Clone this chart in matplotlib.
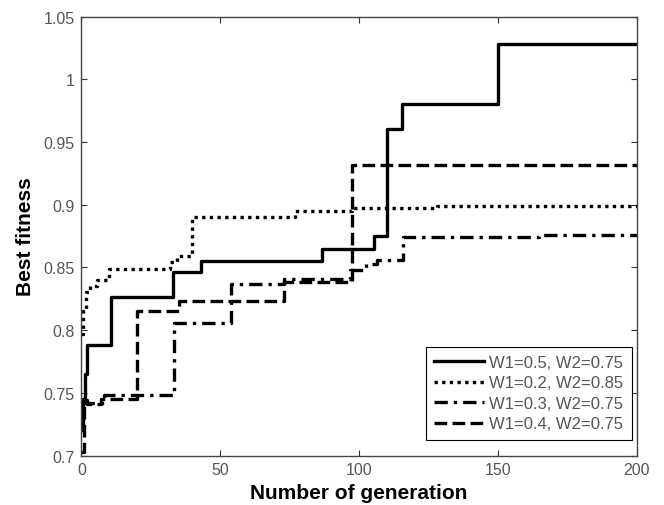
import matplotlib
matplotlib.use("Agg")
import matplotlib.pyplot as plt

plt.rcParams['font.family'] = ['Liberation Sans', 'DejaVu Sans']

# Series data (generation at which best fitness changes, and fitness value)
gen_a = [0, 0.7, 1.4, 2, 10.5, 33, 43, 86.5, 105.5, 110, 115.5, 150, 200]
fit_a = [0.72, 0.745, 0.765, 0.788, 0.826, 0.846, 0.855, 0.865, 0.875, 0.960, 0.980, 1.028, 1.028]

gen_b = [0, 0.7, 1.5, 3, 5.5, 10, 32, 34.5, 40, 77, 97.5, 128, 200]
fit_b = [0.797, 0.815, 0.830, 0.835, 0.840, 0.849, 0.854, 0.859, 0.890, 0.895, 0.897, 0.899, 0.899]

gen_c = [0, 3, 8, 33.5, 54, 73, 96.7, 102.6, 106.5, 116, 165, 200]
fit_c = [0.742, 0.742, 0.748, 0.806, 0.837, 0.841, 0.848, 0.853, 0.856, 0.874, 0.876, 0.876]

gen_d = [0, 0.8, 2, 7, 20, 35, 73, 97.5, 200]
fit_d = [0.703, 0.744, 0.741, 0.745, 0.815, 0.823, 0.838, 0.932, 0.932]

labels = ["W1=0.5, W2=0.75", "W1=0.2, W2=0.85", "W1=0.3, W2=0.75", "W1=0.4, W2=0.75"]
xticks = [0, 50, 100, 150, 200]
yticks = [0.7, 0.75, 0.8, 0.85, 0.9, 0.95, 1.0, 1.05]
yticklabels = ["0.7", "0.75", "0.8", "0.85", "0.9", "0.95", "1", "1.05"]

fig = plt.figure(figsize=(6.64, 5.06), dpi=100)
ax = fig.add_axes([0.1227, 0.0978, 0.8359, 0.8676])

lw = 2.4
ax.plot(gen_a, fit_a, drawstyle='steps-post', color='black', lw=lw, linestyle='-', label=labels[0])
ax.plot(gen_b, fit_b, drawstyle='steps-post', color='black', lw=lw, linestyle=(0, (1, 1.3)), label=labels[1])
ax.plot(gen_c, fit_c, drawstyle='steps-post', color='black', lw=lw, linestyle=(0, (4, 1.8, 1, 1.8)), label=labels[2])
ax.plot(gen_d, fit_d, drawstyle='steps-post', color='black', lw=lw, linestyle=(0, (3.8, 1.6)), label=labels[3])

ax.set_xlim(0, 200)
ax.set_ylim(0.7, 1.05)
ax.set_xticks(xticks)
ax.set_yticks(yticks)
ax.set_yticklabels(yticklabels)
ax.tick_params(direction='in', top=True, right=True, length=4, width=0.8,
               labelsize=11.5, labelcolor='#555555', color='#333333', pad=5)
for s in ax.spines.values():
    s.set_color('#444444')
    s.set_linewidth(1.0)

ax.set_xlabel("Number of generation", fontsize=15, fontweight='bold', labelpad=4)
ax.set_ylabel("Best fitness", fontsize=15, fontweight='bold', labelpad=6)

leg = ax.legend(loc='lower right', bbox_to_anchor=(0.991, 0.036), fontsize=12,
                frameon=True, fancybox=False, edgecolor='black', framealpha=1,
                handlelength=3.0, handletextpad=0.3, labelspacing=0.33,
                borderpad=0.5, borderaxespad=0)
leg.get_frame().set_linewidth(0.8)
for t in leg.get_texts():
    t.set_color('#555555')

fig.savefig("out.png", dpi=100)
